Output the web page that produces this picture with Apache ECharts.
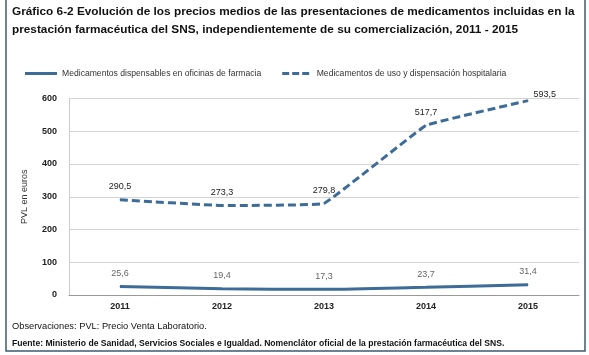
<!DOCTYPE html>
<html><head><meta charset="utf-8">
<script src="https://cdn.jsdelivr.net/npm/echarts@6/dist/echarts.min.js"></script>
<style>html,body{margin:0;padding:0;background:#fff}#c{width:589px;height:355px}</style>
</head><body><div id="c"></div>
<script>
const years = ['2011','2012','2013','2014','2015'];
const farmacia = [25.6, 19.4, 17.3, 23.7, 31.4];
const hospital = [290.5, 273.3, 279.8, 517.7, 593.5];
const seriesNames = ['Medicamentos dispensables en oficinas de farmacia', 'Medicamentos de uso y dispensación hospitalaria'];
const yTicks = [0, 100, 200, 300, 400, 500, 600];

const lineColor = '#3e6c98';
const FONT = 'Liberation Sans, Arial, sans-serif';
const fmt = p => String(p.value).replace('.', ',');
const chart = echarts.init(document.getElementById('c'));
chart.setOption({
  animation: false,
  textStyle: { fontFamily: FONT },
  title: {
    text: 'Gráfico 6-2 Evolución de los precios medios de las presentaciones de medicamentos incluidas en la\nprestación farmacéutica del SNS, independientemente de su comercialización, 2011 - 2015',
    left: 12, top: 3, padding: 0,
    textStyle: { fontSize: 11.8, fontWeight: 'bold', color: '#111', lineHeight: 18, fontFamily: FONT }
  },
  legend: {
    top: 69, left: 25, itemWidth: 32, itemHeight: 3, itemGap: 21, padding: 0,
    textStyle: { fontSize: 8.6, color: '#333' },
    data: [
      { name: seriesNames[0], icon: 'path://M0,0h32v3h-32z' },
      { name: seriesNames[1], icon: 'path://M0,0h7v3h-7z M10,0h7v3h-7z M20,0h7v3h-7z' }
    ]
  },
  grid: { left: 69, right: 10, top: 98.5, bottom: 60, containLabel: false },
  xAxis: {
    type: 'category', data: years, boundaryGap: true,
    axisLine: { lineStyle: { color: '#999' } },
    axisTick: { show: false },
    axisLabel: { fontSize: 9, fontWeight: 'bold', color: '#222', margin: 7 }
  },
  yAxis: {
    type: 'value', min: yTicks[0], max: yTicks[yTicks.length - 1], interval: 100,
    name: 'PVL en euros', nameLocation: 'middle', nameGap: 40, nameRotate: 90,
    nameTextStyle: { fontSize: 9, color: '#333' },
    axisLine: { show: true, lineStyle: { color: '#ccc' } },
    axisTick: { show: false },
    splitLine: { lineStyle: { color: '#d4d4d4' } },
    axisLabel: { fontSize: 9, fontWeight: 'bold', color: '#222', margin: 12 }
  },
  series: [
    {
      name: seriesNames[0], type: 'line', data: farmacia, smooth: 0.3,
      symbol: 'circle', symbolSize: 1, showSymbol: true,
      lineStyle: { color: lineColor, width: 3 }, itemStyle: { color: lineColor },
      label: { show: true, position: 'top', distance: 8, fontSize: 9, color: '#666', formatter: fmt }
    },
    {
      name: seriesNames[1], type: 'line', smooth: 0.06,
      data: hospital.map((v, i) => i === hospital.length - 1
        ? { value: v, label: { position: 'right', distance: 5, offset: [0, -6] } } : v),
      symbol: 'circle', symbolSize: 1, showSymbol: true,
      lineStyle: { color: lineColor, width: 3, type: [8, 4] }, itemStyle: { color: lineColor },
      label: { show: true, position: 'top', distance: 8, fontSize: 9, color: '#222', formatter: fmt }
    }
  ],
  graphic: [
    { type: 'rect', shape: { x: 6, y: -5, width: 579, height: 356 }, style: { fill: 'none', stroke: '#3b5b70', lineWidth: 1.5 } },
    { type: 'text', left: 12, top: 322, style: { text: 'Observaciones: PVL: Precio Venta Laboratorio.', fontSize: 9.3, fill: '#111', fontFamily: FONT } },
    { type: 'text', left: 12, top: 339, style: { text: 'Fuente: Ministerio de Sanidad, Servicios Sociales e Igualdad. Nomenclátor oficial de la prestación farmacéutica del SNS.', fontSize: 8.6, fontWeight: 'bold', fill: '#111', fontFamily: FONT } }
  ]
});
</script></body></html>
